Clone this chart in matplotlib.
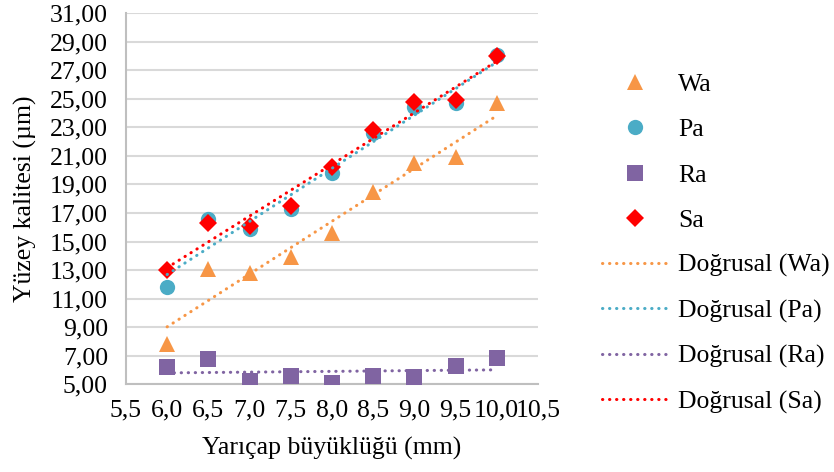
import numpy as np
import matplotlib
matplotlib.use("Agg")
from matplotlib import pyplot as plt
from matplotlib.ticker import FuncFormatter, MultipleLocator

radius = [6.0, 6.5, 7.0, 7.5, 8.0, 8.5, 9.0, 9.5, 10.0]
wa = [7.8, 13.1, 12.8, 13.9, 15.6, 18.45, 20.5, 20.9, 24.7]
pa = [11.8, 16.6, 15.9, 17.3, 19.8, 22.6, 24.4, 24.7, 28.05]
ra = [6.2, 6.8, 5.25, 5.55, 5.1, 5.55, 5.5, 6.3, 6.85]
sa = [13.0, 16.3, 16.1, 17.5, 20.2, 22.8, 24.8, 24.9, 28.0]
y_ticks = [5, 7, 9, 11, 13, 15, 17, 19, 21, 23, 25, 27, 29, 31]

names = ["Wa", "Pa", "Ra", "Sa"]
colors = ["#F79646", "#4BACC6", "#8064A2", "#FF0000"]
markers = ["^", "o", "s", "D"]
sizes = [12, 11, 11, 9]

plt.rcParams['font.family'] = ['Liberation Serif', 'DejaVu Serif']
plt.rcParams['font.size'] = 18.5

fig = plt.figure(figsize=(8.34, 4.72), dpi=100)
ax = fig.add_axes([0.151, 0.186, 0.494, 0.786])

x = np.array(radius)
marks = []
for vals, name, c, m, s in zip([wa, pa, ra, sa], names, colors, markers, sizes):
    h, = ax.plot(x, vals, linestyle='none', marker=m, markersize=s, color=c,
                 markeredgewidth=0, label=name, zorder=3)
    marks.append(h)

trends = []
for vals, name, c in zip([wa, pa, ra, sa], names, colors):
    k, b = np.polyfit(x, vals, 1)
    h, = ax.plot(x, k * x + b, color=c, linewidth=2.2, linestyle=(0, (0.1, 2.2)),
                 dash_capstyle='round', label="Doğrusal (" + name + ")", zorder=4)
    trends.append(h)

ax.set_xlim(5.5, 10.5)
ax.set_ylim(5, 31)
ax.xaxis.set_major_locator(MultipleLocator(0.5))
ax.set_yticks(y_ticks)
ax.yaxis.set_major_formatter(FuncFormatter(lambda v, p: f"{v:.2f}".replace('.', ',')))
ax.xaxis.set_major_formatter(FuncFormatter(lambda v, p: f"{v:.1f}".replace('.', ',')))
ax.tick_params(length=0)
ax.tick_params(axis='y', pad=13)
ax.tick_params(axis='x', pad=11)
ax.grid(axis='y', color='#d9d9d9', linewidth=1.5)
ax.set_axisbelow(True)
for side in ['top', 'right']:
    ax.spines[side].set_visible(False)
ax.spines['left'].set_color('#bfbfbf')
ax.spines['bottom'].set_color('#bfbfbf')
ax.spines['left'].set_linewidth(1.5)
ax.spines['bottom'].set_linewidth(1.5)

ax.set_xlabel("Yarıçap büyüklüğü (mm)", labelpad=11)
ax.set_ylabel("Yüzey kalitesi (µm)", labelpad=9)

fig.legend(handles=marks + trends, loc='center left', bbox_to_anchor=(0.722, 0.484),
           frameon=False, handlelength=2.55, labelspacing=0.86, handletextpad=0.4,
           borderpad=0, borderaxespad=0, fontsize=18.5)

fig.savefig("out.png", dpi=100)
plt.close()
